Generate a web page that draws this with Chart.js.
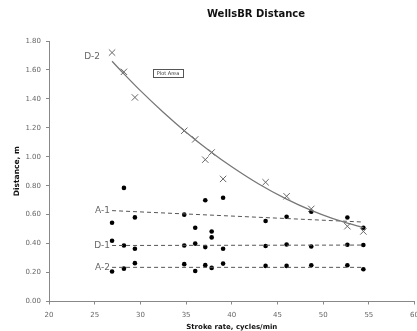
<!DOCTYPE html>
<html>
<head>
<meta charset="utf-8">
<script src="https://cdn.jsdelivr.net/npm/chart.js@4"></script>
<style>
  html, body { margin: 0; padding: 0; background: #fff; overflow: hidden; }
  #wrap { width: 425px; height: 331px; }
</style>
</head>
<body>
<div id="wrap"><canvas id="myChart" width="425" height="331"></canvas></div>
<script>
// stroke rate (cycles/min) for each trial
var strokeRate = [26.9, 28.2, 29.4, 34.8, 36.0, 37.1, 37.8, 39.05, 43.7, 46.0, 48.7, 52.65, 54.4];

// distances, m
var d2Dist = [1.72, 1.587, 1.41, 1.18, 1.12, 0.98, 1.03, 0.847, 0.824, 0.727, 0.64, 0.52, 0.484];
var a1Dist = [0.544, 0.785, 0.581, 0.60, 0.51, 0.70, 0.484, 0.717, 0.556, 0.586, 0.62, 0.58, 0.51];
var d1Dist = [0.42, 0.387, 0.364, 0.387, 0.40, 0.376, 0.443, 0.364, 0.383, 0.394, 0.38, 0.392, 0.39];
var a2Dist = [0.207, 0.227, 0.265, 0.258, 0.211, 0.251, 0.232, 0.262, 0.246, 0.246, 0.25, 0.25, 0.223];

// trend lines
var d2TrendX = [26.9, 28.2, 30, 32.5, 35, 37.8, 40, 43, 46, 48.7, 51, 54.4];
var d2TrendY = [1.66, 1.573, 1.457, 1.308, 1.17, 1.03, 0.931, 0.81, 0.707, 0.629, 0.574, 0.51];
var flatTrendX = [26.9, 54.4];
var a1TrendY = [0.628, 0.549];
var d1TrendY = [0.387, 0.39];
var a2TrendY = [0.236, 0.236];

var xTicks = [20, 25, 30, 35, 40, 45, 50, 55, 60];
var yTicks = [0, 0.2, 0.4, 0.6, 0.8, 1.0, 1.2, 1.4, 1.6, 1.8];

function pts(xs, ys) {
    return xs.map(function (x, i) { return { x: x, y: ys[i] }; });
}

var FONT = "'DejaVu Sans', Verdana, sans-serif";

// series names next to the trend lines + title + the stray "Plot Area" box
var labelsPlugin = {
    id: 'labels',
    afterDraw: function (chart) {
        var c = chart.ctx;
        var xs = chart.scales.x, ys = chart.scales.y;
        c.save();
        c.fillStyle = '#111';
        c.font = 'bold 10px ' + FONT;
        c.textAlign = 'center';
        c.textBaseline = 'middle';
        c.fillText('WellsBR Distance', 256, 14.5);

        c.fillStyle = '#666';
        c.font = '9px ' + FONT;
        c.textAlign = 'right';
        c.fillText('D-2', xs.getPixelForValue(d2TrendX[0]) - 12, ys.getPixelForValue(1.69));
        c.fillText('A-1', xs.getPixelForValue(flatTrendX[0]) - 2, ys.getPixelForValue(a1TrendY[0]));
        c.fillText('D-1', xs.getPixelForValue(flatTrendX[0]) - 2, ys.getPixelForValue(d1TrendY[0]));
        c.fillText('A-2', xs.getPixelForValue(flatTrendX[0]) - 2, ys.getPixelForValue(a2TrendY[0]));

        c.font = '5px ' + FONT;
        c.textAlign = 'center';
        c.fillStyle = '#333';
        c.fillText('Plot Area', 168, 73.5);
        c.strokeStyle = '#555';
        c.lineWidth = 1;
        c.strokeRect(153.5, 69.5, 30, 8);
        c.restore();
    }
};

var ctx = document.getElementById('myChart');

new Chart(ctx, {
    type: 'scatter',
    data: {
        datasets: [{
            label: 'D-2 trend',
            data: pts(d2TrendX, d2TrendY),
            showLine: true,
            cubicInterpolationMode: 'monotone',
            borderColor: '#777',
            borderWidth: 1.3,
            pointRadius: 0
        }, {
            label: 'A-1 trend',
            data: pts(flatTrendX, a1TrendY),
            showLine: true,
            borderColor: '#555',
            borderWidth: 1,
            borderDash: [4, 3],
            pointRadius: 0
        }, {
            label: 'D-1 trend',
            data: pts(flatTrendX, d1TrendY),
            showLine: true,
            borderColor: '#555',
            borderWidth: 1,
            borderDash: [4, 3],
            pointRadius: 0
        }, {
            label: 'A-2 trend',
            data: pts(flatTrendX, a2TrendY),
            showLine: true,
            borderColor: '#555',
            borderWidth: 1,
            borderDash: [4, 3],
            pointRadius: 0
        }, {
            label: 'D-2',
            data: pts(strokeRate, d2Dist),
            pointStyle: 'crossRot',
            pointRadius: 4.5,
            borderColor: '#666',
            borderWidth: 1
        }, {
            label: 'A-1',
            data: pts(strokeRate, a1Dist),
            pointStyle: 'circle',
            pointRadius: 2.3,
            backgroundColor: '#000',
            borderColor: '#000',
            borderWidth: 0
        }, {
            label: 'D-1',
            data: pts(strokeRate, d1Dist),
            pointStyle: 'circle',
            pointRadius: 2.3,
            backgroundColor: '#000',
            borderColor: '#000',
            borderWidth: 0
        }, {
            label: 'A-2',
            data: pts(strokeRate, a2Dist),
            pointStyle: 'circle',
            pointRadius: 2.3,
            backgroundColor: '#000',
            borderColor: '#000',
            borderWidth: 0
        }]
    },
    options: {
        responsive: false,
        animation: false,
        events: [],
        layout: {
            padding: { left: 0, right: 0, top: 41, bottom: 0 }
        },
        plugins: {
            legend: { display: false },
            tooltip: { enabled: false }
        },
        scales: {
            x: {
                type: 'linear',
                min: 20,
                max: 60,
                afterBuildTicks: function (s) { s.ticks = xTicks.map(function (v) { return { value: v }; }); },
                afterFit: function (s) { s.height = 29.5; },
                ticks: { color: '#666', font: { family: FONT, size: 7 }, padding: 6, maxRotation: 0 },
                grid: { drawOnChartArea: false, drawTicks: true, tickLength: 3, color: '#888' },
                border: { display: true, color: '#888' },
                title: {
                    display: true,
                    text: 'Stroke rate, cycles/min',
                    color: '#111',
                    font: { family: FONT, size: 7, weight: 'bold' },
                    padding: { top: 0, bottom: 0 }
                }
            },
            y: {
                min: 0,
                max: 1.8,
                afterBuildTicks: function (s) { s.ticks = yTicks.map(function (v) { return { value: v }; }); },
                afterFit: function (s) { s.width = 49; },
                ticks: {
                    color: '#666',
                    font: { family: FONT, size: 7 },
                    padding: 5,
                    callback: function (v) { return Number(v).toFixed(2); }
                },
                grid: { drawOnChartArea: false, drawTicks: true, tickLength: 3, color: '#888' },
                border: { display: true, color: '#888' },
                title: {
                    display: true,
                    text: 'Distance, m',
                    color: '#111',
                    font: { family: FONT, size: 7.5, weight: 'bold' },
                    padding: { top: 12.5, bottom: 0 }
                }
            }
        }
    },
    plugins: [labelsPlugin]
});
</script>
</body>
</html>
